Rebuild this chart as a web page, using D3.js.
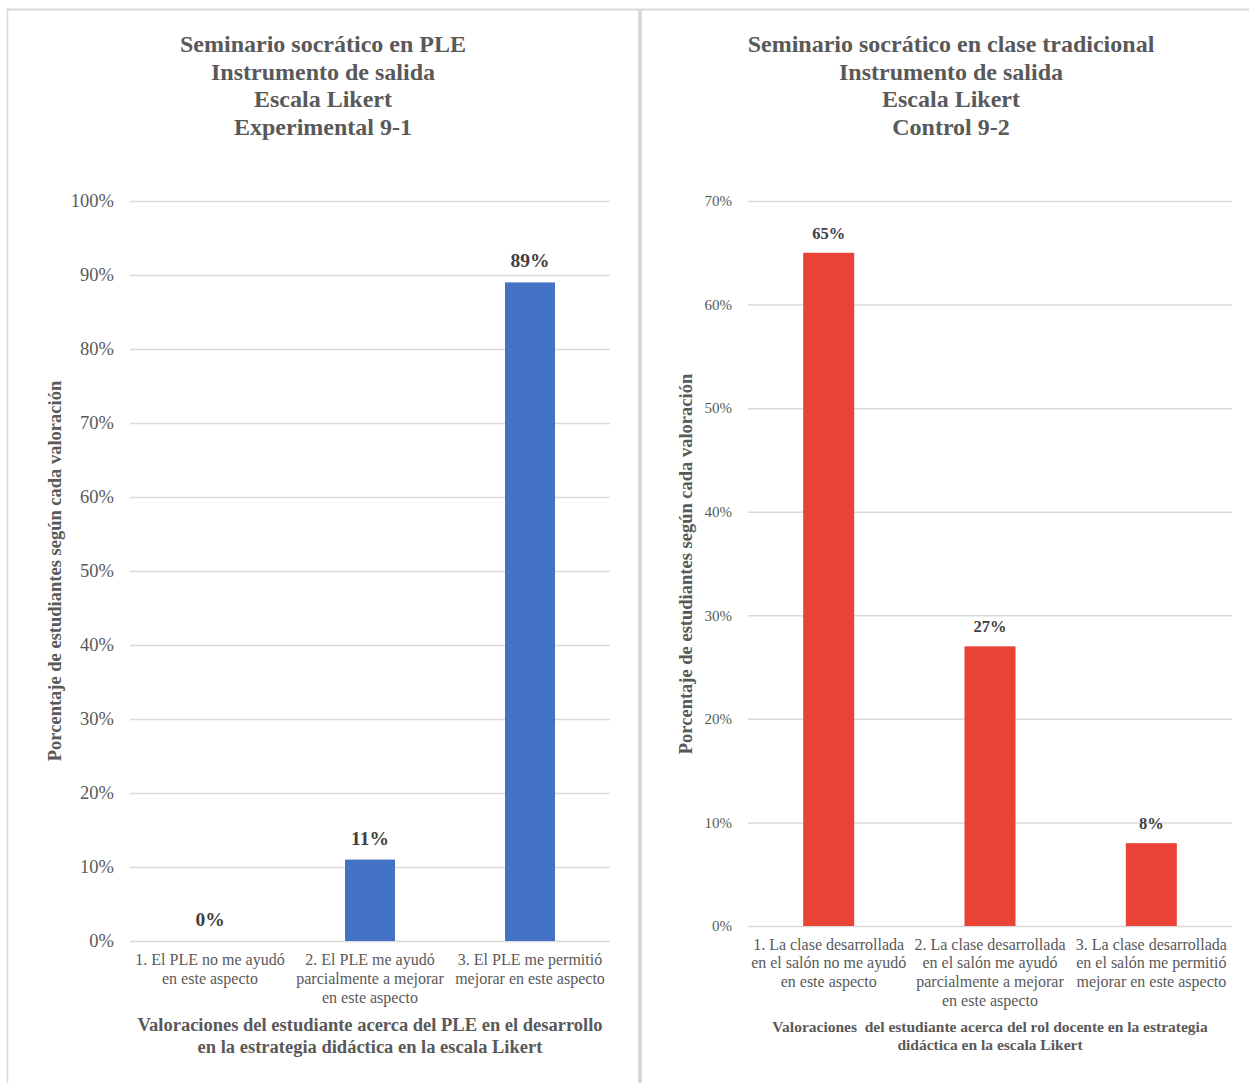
<!DOCTYPE html>
<html><head><meta charset="utf-8">
<script src="https://cdn.jsdelivr.net/npm/d3@7"></script>
<style>
body{margin:0;background:#fff;}
text{font-family:"Liberation Serif","Times New Roman",serif;}
</style></head>
<body><svg id="c" width="1249" height="1083"></svg>
<script>
// Left chart data
const leftTitle = ["Seminario socrático en PLE","Instrumento de salida","Escala Likert","Experimental 9-1"];
const leftCategories = [
  ["1. El PLE no me ayudó","en este aspecto"],
  ["2. El PLE me ayudó","parcialmente a mejorar","en este aspecto"],
  ["3. El PLE me permitió","mejorar en este aspecto"]
];
const leftValues = [0, 11, 89];
const leftTicks = [0,10,20,30,40,50,60,70,80,90,100];
const leftXTitle = ["Valoraciones del estudiante acerca del PLE en el desarrollo","en la estrategia didáctica en la escala Likert"];

// Right chart data
const rightTitle = ["Seminario socrático en clase tradicional","Instrumento de salida","Escala Likert","Control 9-2"];
const rightCategories = [
  ["1. La clase desarrollada","en el salón no me ayudó","en este aspecto"],
  ["2. La clase desarrollada","en el salón me ayudó","parcialmente a mejorar","en este aspecto"],
  ["3. La clase desarrollada","en el salón me permitió","mejorar en este aspecto"]
];
const rightValues = [65, 27, 8];
const rightTicks = [0,10,20,30,40,50,60,70];
const rightXTitle = ["Valoraciones  del estudiante acerca del rol docente en la estrategia","didáctica en la escala Likert"];

const yTitle = "Porcentaje de estudiantes según cada valoración";

const svg = d3.select("#c");
const grey = "#595959";

// frame
svg.append("line").attr("x1",7).attr("x2",1249).attr("y1",9.5).attr("y2",9.5).attr("stroke","#d9d9d9").attr("stroke-width",2);
svg.append("line").attr("x1",7.5).attr("x2",7.5).attr("y1",9).attr("y2",1083).attr("stroke","#d9d9d9").attr("stroke-width",1.5);
svg.append("rect").attr("x",638).attr("y",9).attr("width",4).attr("height",1074).attr("fill","#d9d9d9");

function drawChart(cfg){
  const g = svg.append("g");
  const x = d3.scaleBand().domain(d3.range(cfg.values.length)).range([cfg.x0, cfg.x1]).paddingInner(0).paddingOuter(0);
  const y = d3.scaleLinear().domain([0, cfg.ticks[cfg.ticks.length-1]]).range([cfg.yBottom, cfg.yTop]);

  // title
  cfg.title.forEach((t,i)=>{
    g.append("text").attr("x",cfg.titleX).attr("y",52+i*27.7).attr("text-anchor","middle")
      .attr("font-size",24).attr("font-weight","bold").attr("fill",grey).text(t);
  });

  // gridlines
  const yAxis = d3.axisLeft(y).tickValues(cfg.ticks).tickSize(-(cfg.x1-cfg.x0)).tickFormat(d=>d+"%").tickPadding(cfg.tickPad);
  const ag = g.append("g").attr("transform",`translate(${cfg.x0},0)`).call(yAxis);
  ag.select(".domain").remove();
  ag.selectAll(".tick line").attr("stroke","#d9d9d9").attr("stroke-width",1.5);
  ag.selectAll(".tick text").attr("fill",grey).attr("font-size",cfg.tickFont).attr("font-family","Liberation Serif");

  // bars
  const bw = cfg.barW;
  g.selectAll("rect.bar").data(cfg.values).enter().append("rect")
    .attr("x",(d,i)=>x(i)+x.bandwidth()/2-bw/2).attr("width",bw)
    .attr("y",d=>y(d)).attr("height",d=>y(0)-y(d)).attr("fill",cfg.color);

  // data labels
  g.selectAll("text.lbl").data(cfg.values).enter().append("text")
    .attr("x",(d,i)=>x(i)+x.bandwidth()/2).attr("y",d=>y(d)-cfg.lblOff)
    .attr("text-anchor","middle").attr("font-size",cfg.lblFont).attr("font-weight","bold").attr("fill","#404040")
    .text(d=>d+"%");

  // category labels
  cfg.categories.forEach((lines,i)=>{
    lines.forEach((l,j)=>{
      g.append("text").attr("x",x(i)+x.bandwidth()/2).attr("y",cfg.catY+j*cfg.catLH)
        .attr("text-anchor","middle").attr("font-size",cfg.catFont).attr("fill",grey).text(l);
    });
  });

  // x title
  cfg.xTitle.forEach((l,j)=>{
    g.append("text").attr("x",(cfg.x0+cfg.x1)/2).attr("y",cfg.xtY+j*cfg.xtLH)
      .attr("text-anchor","middle").attr("font-size",cfg.xtFont).attr("font-weight","bold").attr("fill",grey)
      .attr("xml:space","preserve").style("white-space","pre").text(l);
  });

  // y title
  g.append("text").attr("transform",`translate(${cfg.ytX},${cfg.ytY}) rotate(-90)`)
    .attr("text-anchor","middle").attr("font-size",cfg.ytFont).attr("font-weight","bold").attr("fill",grey).text(yTitle);
}

drawChart({
  title:leftTitle, titleX:323, values:leftValues, ticks:leftTicks, categories:leftCategories, xTitle:leftXTitle,
  x0:130, x1:610, yTop:201, yBottom:941, barW:50, color:"#4472c4",
  tickFont:18.5, tickPad:16, lblFont:19.5, lblOff:15,
  catY:964.5, catLH:19, catFont:16,
  xtY:1031, xtLH:22, xtFont:18.5,
  ytX:61, ytY:571, ytFont:18.5
});

drawChart({
  title:rightTitle, titleX:951, values:rightValues, ticks:rightTicks, categories:rightCategories, xTitle:rightXTitle,
  x0:748, x1:1232, yTop:201, yBottom:926, barW:51, color:"#ea4335",
  tickFont:15, tickPad:16, lblFont:16.5, lblOff:14,
  catY:949.5, catLH:18.7, catFont:16,
  xtY:1032, xtLH:18, xtFont:15.5,
  ytX:692, ytY:564, ytFont:18.5
});
</script></body></html>
